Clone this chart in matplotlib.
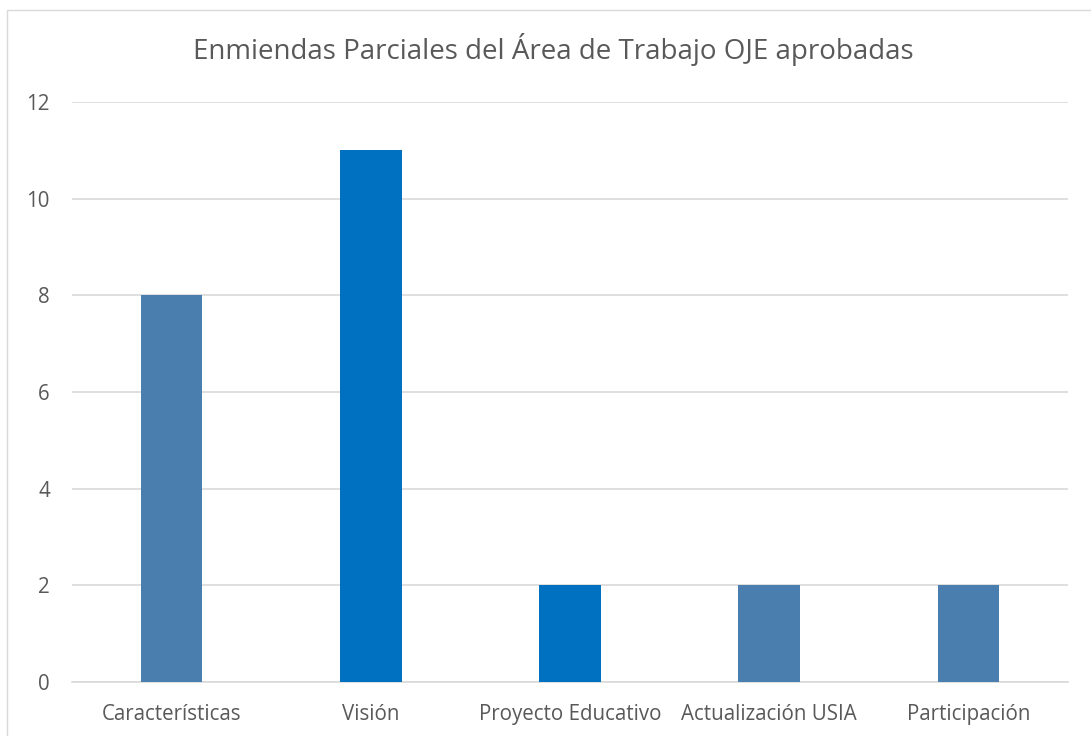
import matplotlib
matplotlib.use("Agg")
import matplotlib.pyplot as plt
from matplotlib.patches import Rectangle

categories = ["Características", "Visión", "Proyecto Educativo", "Actualización USIA", "Participación"]
values = [8, 11, 2, 2, 2]
bar_colors = ["#4A7EAE", "#0070C0", "#0070C0", "#4A7EAE", "#4A7EAE"]
yticks = [0, 2, 4, 6, 8, 10, 12]
title = "Enmiendas Parciales del Área de Trabajo OJE aprobadas"

plt.rcParams['font.family'] = ['Open Sans', 'DejaVu Sans']
W, H = 1091, 736
fig = plt.figure(figsize=(W / 100, H / 100), dpi=100)
fig.patch.set_facecolor("white")

# outer chart border
fig.add_artist(Rectangle((7 / W, -0.1), 1.2, (H - 10) / H + 0.1, transform=fig.transFigure,
                         fill=False, edgecolor="#D9D9D9", linewidth=1))

ax = fig.add_axes([72 / W, (H - 682) / H, (1068 - 72) / W, (682 - 102) / H])
x = list(range(len(categories)))
ax.bar(x, values, width=0.31, color=bar_colors, zorder=3)
ax.set_xlim(-0.5, len(categories) - 0.5)
ax.set_ylim(0, 12)
ax.set_yticks(yticks)
ax.set_xticks(x)
ax.set_xticklabels(categories)
ax.grid(axis="y", color="#D9D9D9", linewidth=1.2, zorder=0)
for s in ["top", "right", "left"]:
    ax.spines[s].set_visible(False)
ax.spines["bottom"].set_color("#D9D9D9")
ax.spines["bottom"].set_linewidth(1.2)
ax.tick_params(axis="both", length=0, labelsize=14.8, labelcolor="#595959")
ax.tick_params(axis="y", pad=16)
ax.tick_params(axis="x", pad=16)

fig.text(553 / W, (H - 50) / H, title, ha="center", va="center", fontsize=20, color="#595959")

fig.savefig("out.png", dpi=100, facecolor="white")
